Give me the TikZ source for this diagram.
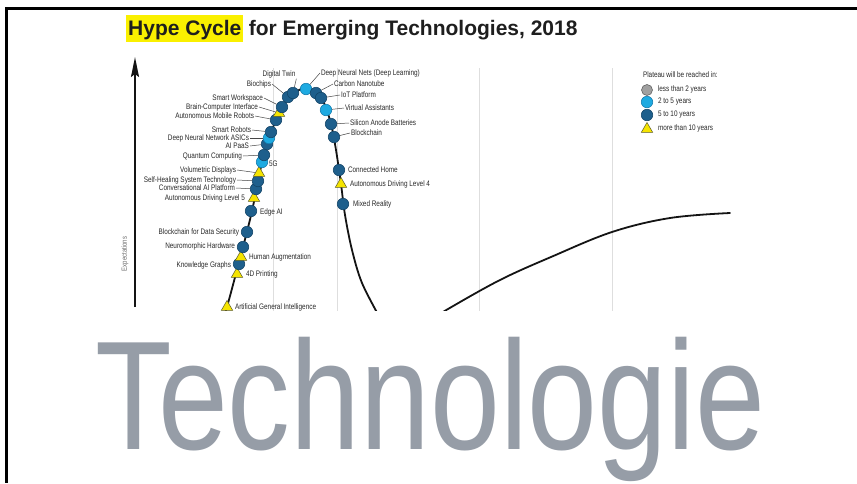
\documentclass[tikz,border=0pt]{standalone}
\usepackage{fontspec}
\setmainfont{Liberation Sans}
\newfontfamily\cond[FakeStretch=0.8]{Liberation Sans}
\newfontfamily\bigcond[FakeStretch=0.81]{Liberation Sans}
\usetikzlibrary{shapes.geometric,arrows.meta}
\definecolor{dkblue}{RGB}{30,95,140}
\definecolor{dkblueline}{RGB}{20,70,105}
\definecolor{ltblue}{RGB}{30,170,225}
\definecolor{ltblueline}{RGB}{20,125,175}
\definecolor{gyfill}{RGB}{160,160,160}
\definecolor{gyline}{RGB}{100,100,100}
\definecolor{triyellow}{RGB}{245,228,0}
\definecolor{triline}{RGB}{90,90,40}
\definecolor{hlyellow}{RGB}{250,240,0}
\definecolor{labeltext}{RGB}{40,40,40}
\definecolor{leadgray}{RGB}{70,70,70}
\definecolor{gridgray}{RGB}{222,222,222}
\definecolor{curveblack}{RGB}{20,20,20}
\definecolor{techgray}{RGB}{150,157,167}
\definecolor{titleblack}{RGB}{30,30,30}
\definecolor{axisgray}{RGB}{110,110,110}
\begin{document}
\begin{tikzpicture}[x=1pt,y=-1pt,
  dk/.style={circle,fill=dkblue,draw=dkblueline,line width=0.6pt,minimum size=11.5pt,inner sep=0pt},
  lt/.style={circle,fill=ltblue,draw=ltblueline,line width=0.6pt,minimum size=11.5pt,inner sep=0pt},
  gy/.style={circle,fill=gyfill,draw=gyline,line width=0.6pt,minimum size=11pt,inner sep=0pt},
  tri/.style={regular polygon,regular polygon sides=3,fill=triyellow,draw=triline,line width=0.5pt,minimum size=13pt,inner sep=0pt},
  lbl/.style={font={\cond\fontsize{8}{9}\selectfont},text=labeltext,inner sep=0.8pt},
  lft/.style={lbl,anchor=east},
  rgt/.style={lbl,anchor=west},
  leader/.style={draw=leadgray,line width=0.5pt},
  gridline/.style={draw=gridgray,line width=0.7pt},
  curve/.style={draw=curveblack,line width=1.8pt,line cap=round},
  frame/.style={draw=black,line width=3pt}]
\useasboundingbox (0,0) rectangle (857,483);
\fill[white] (0,0) rectangle (857,483);

% frame
\coordinate (ftl) at (6.5,8.5);
\coordinate (ftr) at (857,8.5);
\coordinate (fbl) at (6.5,483);
\draw[frame] (ftr) -- (ftl) -- (fbl);

% title
\node[anchor=base west,fill=hlyellow,inner xsep=2pt,inner ysep=0pt,text height=20pt,text depth=7pt,
      font={\bfseries\fontsize{21}{24}\selectfont},text=titleblack] (hc) at (126,35) {Hype Cycle};
\node[anchor=base west,inner sep=0pt,font={\bfseries\fontsize{21}{24}\selectfont},text=titleblack]
      (rest) at ([xshift=5pt]hc.base east) {for Emerging Technologies, 2018};

% y axis
\coordinate (ya) at (135,307);
\coordinate (yb) at (135,57);
\draw[line width=1.8pt,curveblack,-{Stealth[length=20pt,width=8pt,inset=3pt]}] (ya) -- (yb);
\node[rotate=90,font={\cond\fontsize{7.5}{8}\selectfont},text=axisgray,inner sep=0pt] (exp) at (125,254) {Expectations};

\begin{scope}
\clip (100,50) rectangle (857,310);
% grid lines
\foreach \gx in {273,337,479,612} {
  \draw[gridline] (\gx,68) -- (\gx,312);
}
% curve
\draw[curve] plot[smooth,tension=0.55] coordinates {(222,322) (227,307) (243,247) (252,211) (259,176) (264,155) (270,135) (278,116) (288,98) (297,91) (306,88) (316,92) (324,103) (331,124) (336,150) (341,184) (345,215) (352,250) (362,283) (380,318)};
\draw[curve] plot[smooth,tension=0.6] coordinates {(434,318) (448,309) (500,280) (551,257) (612,232) (670,218) (730,213)};

% markers
\node[tri] (m1) at (227,307) {};
\node[tri] (m2) at (237,274) {};
\node[dk]  (m3) at (239,264) {};
\node[tri] (m4) at (241,257) {};
\node[dk]  (m5) at (243,247) {};
\node[dk]  (m6) at (247,232) {};
\node[dk]  (m7) at (251,211) {};
\node[tri] (m8) at (254,198) {};
\node[dk]  (m9) at (256,189) {};
\node[dk]  (m10) at (258,181) {};
\node[tri] (m11) at (259,173) {};
\node[lt]  (m12) at (262,162) {};
\node[dk]  (m13) at (264,155) {};
\node[dk]  (m14) at (267,144) {};
\node[lt]  (m15) at (269,138) {};
\node[dk]  (m16) at (271,132) {};
\node[dk]  (m17) at (276,120) {};
\node[tri] (m18) at (279,113) {};
\node[dk]  (m19) at (282,107) {};
\node[dk]  (m20) at (288,97) {};
\node[dk]  (m21) at (293,93) {};
\node[lt]  (m22) at (306,89) {};
\node[dk]  (m23) at (316,93) {};
\node[dk]  (m24) at (321,98) {};
\node[lt]  (m25) at (326,110) {};
\node[dk]  (m26) at (331,124) {};
\node[dk]  (m27) at (334,137) {};
\node[dk]  (m28) at (339,170) {};
\node[tri] (m29) at (341,184) {};
\node[dk]  (m30) at (343,204) {};

% labels
\node[rgt] (l1) at (234,307) {Artificial General Intelligence};
\node[rgt] (l2) at (245,274) {4D Printing};
\node[lft] (l3) at (232,265) {Knowledge Graphs};
\node[rgt] (l4) at (248,257) {Human Augmentation};
\node[lft] (l5) at (236,246) {Neuromorphic Hardware};
\node[lft] (l6) at (240,232) {Blockchain for Data Security};
\node[rgt] (l7) at (259,212) {Edge AI};
\node[lft] (l8) at (246,198) {Autonomous Driving Level 5};
\node[lft] (l9) at (236,188) {Conversational AI Platform};
\node[lft] (l10) at (237,180) {Self-Healing System Technology};
\node[lft] (l11) at (237,170) {Volumetric Displays};
\node[rgt] (l12) at (268,164) {5G};
\node[lft] (l13) at (243,156) {Quantum Computing};
\node[lft] (l14) at (250,146) {AI PaaS};
\node[lft] (l15) at (250,138) {Deep Neural Network ASICs};
\node[lft] (l16) at (252,130) {Smart Robots};
\node[lft] (l17) at (255,116) {Autonomous Mobile Robots};
\node[lft] (l18) at (259,107) {Brain-Computer Interface};
\node[lft] (l19) at (264,98) {Smart Workspace};
\node[lft] (l20) at (272,84) {Biochips};
\node[lbl,anchor=center] (l21) at (279,74) {Digital Twin};
\node[rgt] (l22) at (320,73) {Deep Neural Nets (Deep Learning)};
\node[rgt] (l23) at (333,84) {Carbon Nanotube};
\node[rgt] (l24) at (340,95) {IoT Platform};
\node[rgt] (l25) at (344,108) {Virtual Assistants};
\node[rgt] (l26) at (349,123) {Silicon Anode Batteries};
\node[rgt] (l27) at (350,133) {Blockchain};
\node[rgt] (l28) at (347,170) {Connected Home};
\node[rgt] (l29) at (349,184) {Autonomous Driving Level 4};
\node[rgt] (l30) at (352,204) {Mixed Reality};

% leaders
\draw[leader] (l9.east) -- (m9);
\draw[leader] (l10.east) -- (m10);
\draw[leader] (l11.east) -- (m11);
\draw[leader] (l13.east) -- (m13);
\draw[leader] (l14.east) -- (m14);
\draw[leader] (l15.east) -- (m15);
\draw[leader] (l16.east) -- (m16);
\draw[leader] (l17.east) -- (m17);
\draw[leader] (l18.east) -- (m18);
\draw[leader] (l19.east) -- (m19);
\draw[leader] (l20.east) -- (m20);
\draw[leader] (l21.south east) -- (m21);
\draw[leader] (l22.west) -- (m22);
\draw[leader] (l23.west) -- (m23);
\draw[leader] (l24.west) -- (m24);
\draw[leader] (l25.west) -- (m25);
\draw[leader] (l26.west) -- (m26);
\draw[leader] (l27.west) -- (m27);
\end{scope}

% legend
\node[lbl,anchor=west] (lgt) at (642,75) {Plateau will be reached in:};
\node[gy]  (g1) at (647,90) {};
\node[lt]  (g2) at (647,102) {};
\node[dk]  (g3) at (647,115) {};
\node[tri] (g4) at (647,129) {};
\node[rgt] (gl1) at (657,89) {less than 2 years};
\node[rgt] (gl2) at (657,102) {2 to 5 years};
\node[rgt] (gl3) at (657,115) {5 to 10 years};
\node[rgt] (gl4) at (657,128) {more than 10 years};

% big word
\node[anchor=base west,inner sep=0pt,text=techgray,font={\bigcond\fontsize{155}{160}\selectfont}] (tech) at (95,449) {Technologie};
\end{tikzpicture}
\end{document}
